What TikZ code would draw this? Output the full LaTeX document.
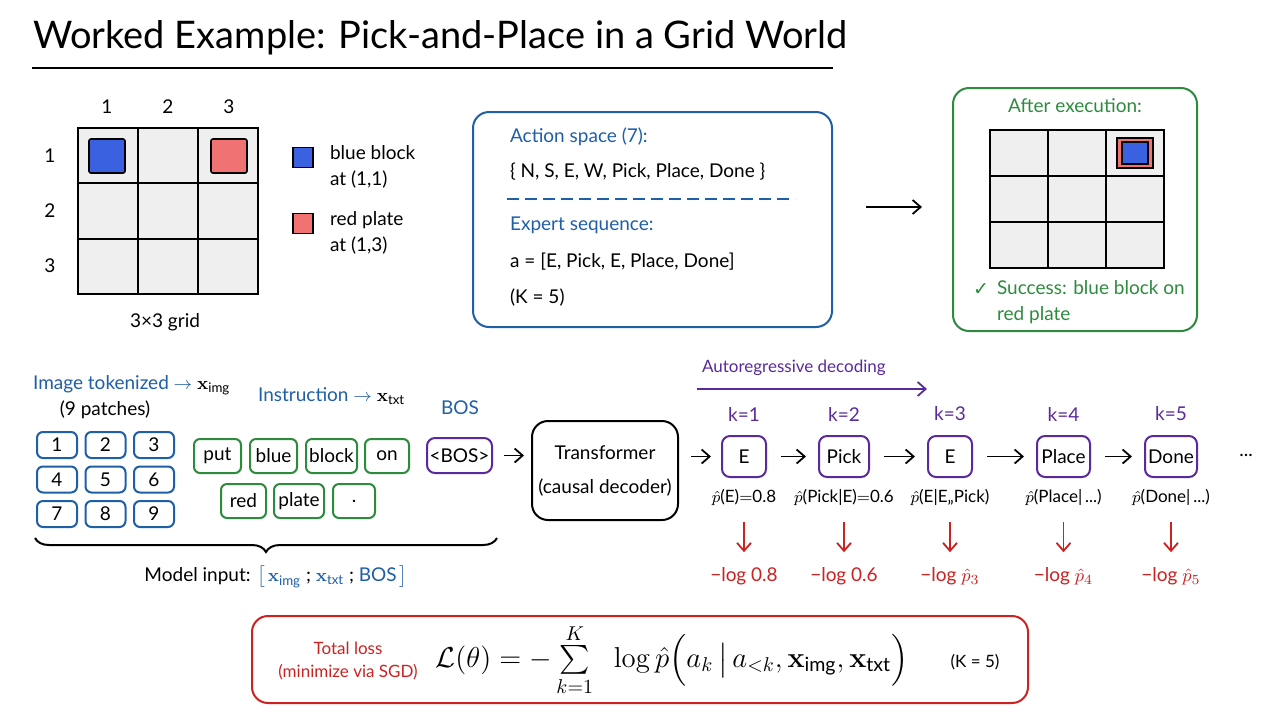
\documentclass[tikz,border=0pt]{standalone}
\usepackage{amsmath}
\usepackage[no-math]{fontspec}
\setmainfont{Lato}
\newfontfamily\symfont{DejaVu Sans}
\usetikzlibrary{arrows.meta,decorations.pathreplacing}

\definecolor{inkblue}{HTML}{1F5FA8}
\definecolor{inkgreen}{HTML}{2E8B3E}
\definecolor{inkpurple}{HTML}{5B2A9A}
\definecolor{inkred}{HTML}{CC2222}
\definecolor{cellgray}{HTML}{EFEFEF}
\definecolor{blockblue}{HTML}{3A62E0}
\definecolor{platered}{HTML}{F07272}

\tikzset{
  txt/.style={font=\fontsize{9.5}{11}\selectfont},
  small/.style={font=\fontsize{8.5}{10}\selectfont},
  patch/.style={draw=inkblue, line width=1pt, rounded corners=3pt, minimum width=20pt, minimum height=13pt, inner sep=0pt, txt},
  word/.style={draw=inkgreen, line width=1pt, rounded corners=3pt, minimum height=17pt, inner sep=0pt, txt},
  tok/.style={draw=inkpurple, line width=1pt, rounded corners=4pt, minimum height=20.5pt, inner sep=0pt, txt},
  panel/.style={line width=1pt, rounded corners=8pt, inner sep=0pt},
  arr/.style={-{Straight Barb[length=4pt,width=7pt]}, line width=0.9pt}
}

\begin{document}
\begin{tikzpicture}[x=0.5pt, y=-0.5pt]
    \useasboundingbox[fill=white] (0,0) rectangle (1280,720);

    \node[anchor=west, font=\fontsize{19}{22}\selectfont] (title) at (26,38) {Worked Example: Pick-and-Place in a Grid World};
    \draw[line width=1.2pt] (32,68) -- (833,68);

    \filldraw[fill=cellgray, line width=1pt] (78,128) rectangle (258,294);
    \draw[line width=1pt] (138,128) -- (138,294) (198,128) -- (198,294)
        (78,183.3) -- (258,183.3) (78,238.7) -- (258,238.7);
    \filldraw[fill=blockblue, line width=0.8pt, rounded corners=1pt] (89,139) rectangle (125,173);
    \filldraw[fill=platered, line width=0.8pt, rounded corners=1pt] (211,139) rectangle (247,173);
    \foreach \i/\x in {1/107,2/168,3/229}
        \node[txt] (col\i) at (\x,107) {\i};
    \foreach \i/\y in {1/156,2/211,3/266}
        \node[txt] (row\i) at (50,\y) {\i};
    \node[txt] (gridcap) at (165,322) {3×3 grid};

    \node[draw, fill=blockblue, line width=0.8pt, minimum size=10pt, inner sep=0pt] (legblue) at (303,157.5) {};
    \node[draw, fill=platered, line width=0.8pt, minimum size=10pt, inner sep=0pt] (legred) at (303,223.5) {};
    \node[txt, anchor=west, align=left] (legbluetxt) at (323,167) {blue block\\[2pt]at (1,1)};
    \node[txt, anchor=west, align=left] (legredtxt) at (323,233) {red plate\\[2pt]at (1,3)};

    \node[panel, draw=inkblue, minimum width=179.5pt, minimum height=107.5pt] (actbox) at (652.5,219.5) {};
    \node[txt, anchor=west, text=inkblue] (actlabel) at (503,137) {Action space (7):};
    \node[txt, anchor=west] (actset) at (503,172) {\{ N, S, E, W, Pick, Place, Done \}};
    \draw[inkblue, line width=1pt, dash pattern=on 6pt off 3pt] (507,199) -- (795,199);
    \node[txt, anchor=west, text=inkblue] (explabel) at (503,225) {Expert sequence:};
    \node[txt, anchor=west] (expseq) at (503,262) {a = [E, Pick, E, Place, Done]};
    \node[txt, anchor=west] (expk) at (503,298) {(K = 5)};

    \coordinate (exec0) at (866,207);
    \coordinate (exec1) at (922,207);
    \draw[arr] (exec0) -- (exec1);

    \node[panel, draw=inkgreen, minimum width=122pt, minimum height=121.5pt] (after) at (1075,209.5) {};
    \node[txt, text=inkgreen] (afterlabel) at (1075,106) {After execution:};
    \filldraw[fill=cellgray, line width=1pt] (990,130) rectangle (1164,268);
    \draw[line width=1pt] (1048,130) -- (1048,268) (1106,130) -- (1106,268)
        (990,176) -- (1164,176) (990,222) -- (1164,222);
    \filldraw[fill=platered, line width=0.8pt] (1117,138) rectangle (1153,168);
    \filldraw[fill=blockblue, line width=0.8pt] (1122,142) rectangle (1148,164);
    \node[txt, text=inkgreen] (check) at (981,290) {{\symfont ✓}};
    \node[txt, anchor=west, text=inkgreen, align=left] (success) at (990,302) {Success: blue block on\\[2pt]red plate};

    \node[txt, anchor=west] (imgtok) at (26,385) {\textcolor{inkblue}{Image tokenized $\rightarrow$} $\mathbf{x}_{\text{img}}$};
    \node[txt] (patchcount) at (105,410) {(9 patches)};
    \foreach \n in {1,...,9} {
        \pgfmathtruncatemacro{\pc}{mod(\n-1,3)}
        \pgfmathtruncatemacro{\pr}{(\n-1)/3}
        \node[patch] (p\n) at (57+48.5*\pc, 445+34.5*\pr) {\n};
    }

    \node[txt, anchor=west] (instr) at (251,396) {\textcolor{inkblue}{Instruction $\rightarrow$} $\mathbf{x}_{\text{txt}}$};
    \foreach \w/\x/\y/\bw in {put/217.5/456/23.5, blue/273.5/456/23.5, block/331.5/456/25.5, on/387/456/22,
                              red/243.5/501/22.5, plate/299/501/25, ./354/501/21}
        \node[word, minimum width=\bw pt] (w\w) at (\x,\y) {\w};

    \node[txt, text=inkblue] (boslabel) at (460,408) {BOS};
    \node[tok, minimum width=32.5pt, minimum height=17.5pt] (bos) at (459.5,455.5) {<BOS>};

    \coordinate (brL) at (35,538);
    \coordinate (brR) at (497,538);
    \draw[line width=1pt, decorate, decoration={brace, mirror, amplitude=7pt}] (brL) -- (brR);
    \node[txt] (modelin) at (276,577) {Model input: \textcolor{inkblue}{$\big[\,\mathbf{x}_{\text{img}}$} ; \textcolor{inkblue}{$\mathbf{x}_{\text{txt}}$} ; \textcolor{inkblue}{BOS$\,\big]$}};

    \node[draw, panel, minimum width=73pt, minimum height=49.5pt, align=center, txt] (trans) at (605,470.5) {Transformer\\[6pt](causal decoder)};
    \draw[arr, shorten <=5.5pt, shorten >=3.5pt] (bos.east) -- (bos.east -| trans.west);

    \node[small, text=inkpurple, anchor=west] (arlabel) at (695,368) {Autoregressive decoding};
    \coordinate (ar0) at (697,389);
    \coordinate (ar1) at (927,389);
    \draw[arr, inkpurple] (ar0) -- (ar1);

    \foreach \kk/\act/\x/\bw/\prob/\nll in {
        1/E/744/22/{$\hat{p}$(E)$=$0.8}/{−log 0.8},
        2/Pick/844/25/{$\hat{p}$(Pick|E)$=$0.6}/{−log 0.6},
        3/E/950/22/{$\hat{p}$(E|E,,Pick)}/{−log $\hat{p}_3$},
        4/Place/1063.5/26.5/{$\hat{p}$(Place|\,...)}/{−log $\hat{p}_4$},
        5/Done/1171/26/{$\hat{p}$(Done|\,...)}/{−log $\hat{p}_5$}} {
        \node[txt, text=inkpurple] (k\kk) at (\x,414) {k=\kk};
        \node[tok, minimum width=\bw pt] (t\kk) at (\x,456.5) {\act};
        \node[small] (pr\kk) at (\x,497) {\prob};
        \node[txt, text=inkred] (lo\kk) at (\x,576) {\nll};
        \draw[arr, inkred, shorten <=5pt, shorten >=4pt] (pr\kk) -- (lo\kk);
    }
    \draw[arr, shorten <=6pt, shorten >=5pt] (trans.east |- t1) -- (t1.west);
    \foreach \i/\j in {1/2,2/3,3/4,4/5}
        \draw[arr, shorten <=7pt, shorten >=6pt] (t\i) -- (t\j);
    \node[txt] (more) at (1246,455) {...};

    \node[panel, draw=inkred, minimum width=388pt, minimum height=43.5pt] (lossbox) at (640,659.5) {};
    \node[small, text=inkred] (losstitle) at (348,648) {Total loss};
    \node[small, text=inkred] (lossnote) at (348,672) {(minimize via SGD)};
    \node[font=\fontsize{14}{16}\selectfont] (formula) at (672,660)
        {$\mathcal{L}(\theta) = -\sum\limits_{k=1}^{K}\;\; \log \hat{p}\Big(a_k \,\big|\, a_{<k}, \mathbf{x}_{\text{img}}, \mathbf{x}_{\text{txt}}\Big)$};
    \node[small] (lossk) at (975,662) {(K = 5)};
\end{tikzpicture}
\end{document}
